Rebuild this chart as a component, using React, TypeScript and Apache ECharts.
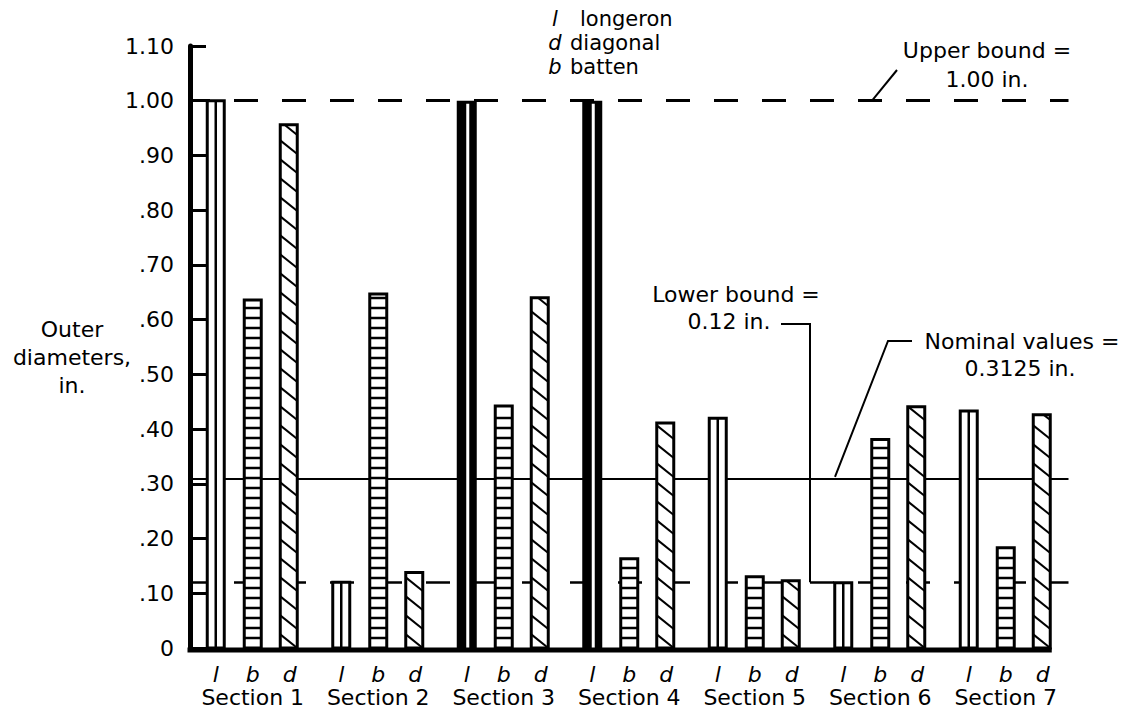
import React, { useEffect, useRef } from "react";
import * as echarts from "echarts";

// Truss member outer diameters (in.) per section
const sections = ["Section 1", "Section 2", "Section 3", "Section 4", "Section 5", "Section 6", "Section 7"];
const memberLetters = ["l", "b", "d"];
const longeron = [1.0, 0.12, 1.0, 1.0, 0.42, 0.119, 0.433];
const batten = [0.636, 0.647, 0.442, 0.163, 0.13, 0.381, 0.183];
const diagonal = [0.956, 0.138, 0.64, 0.411, 0.123, 0.441, 0.426];

// Design limits
const upperBound = 1.0;
const lowerBound = 0.12;
const nominalValue = 0.3125;

const legendRows = [
  ["l", "longeron"],
  ["d", "diagonal"],
  ["b", "batten"],
];

// Longeron bars printed with solid heavy ink
const HEAVY_LONGERONS = [2, 3];

const FONT = "DejaVu Sans";
const INK = "#000";
const BAR_W = 17;

function clipLine(xL: number, w: number, a: number, drop: number, yT: number, yB: number) {
  const t0 = Math.max(0, (yT - a) / drop);
  const t1 = Math.min(1, (yB - a) / drop);
  if (t0 >= t1) return null;
  return { x1: xL + t0 * w, y1: a + t0 * drop, x2: xL + t1 * w, y2: a + t1 * drop };
}

function makeRenderer(kind: string, offset: number) {
  return (params: any, api: any) => {
    const idx = api.value(0);
    const val = api.value(1);
    const top = api.coord([idx, val]);
    const base = api.coord([idx, 0]);
    const cx = top[0] + offset;
    const xL = cx - BAR_W / 2;
    const yT = top[1];
    const yB = base[1];
    const h = yB - yT;
    const children: any[] = [];
    const outline = { stroke: INK, lineWidth: 3, fill: "#fff" };

    if (kind === "l") {
      if (HEAVY_LONGERONS.includes(idx)) {
        children.push({ type: "rect", shape: { x: xL - 1.5, y: yT, width: BAR_W + 3, height: h }, style: { fill: INK } });
        children.push({ type: "line", shape: { x1: cx + 1, y1: yT + 3, x2: cx + 1, y2: yB }, style: { stroke: "#fff", lineWidth: 3 } });
      } else {
        children.push({ type: "rect", shape: { x: xL, y: yT, width: BAR_W, height: h }, style: outline });
        children.push({ type: "line", shape: { x1: cx, y1: yT, x2: cx, y2: yB }, style: { stroke: INK, lineWidth: 2.5 } });
      }
    } else if (kind === "b") {
      children.push({ type: "rect", shape: { x: xL, y: yT, width: BAR_W, height: h }, style: outline });
      for (let y = yB - 10; y > yT + 4; y -= 10) {
        children.push({ type: "line", shape: { x1: xL, y1: y, x2: xL + BAR_W, y2: y }, style: { stroke: INK, lineWidth: 2.5 } });
      }
    } else {
      children.push({ type: "rect", shape: { x: xL, y: yT, width: BAR_W, height: h }, style: outline });
      const drop = BAR_W * 0.8;
      for (let a = yB - drop; a + drop > yT; a -= 19) {
        const seg = clipLine(xL, BAR_W, a, drop, yT, yB);
        if (seg) children.push({ type: "line", shape: seg, style: { stroke: INK, lineWidth: 2 } });
      }
    }
    return { type: "group", children };
  };
}

const seriesData = [longeron, batten, diagonal];
const offsets = [-37, 0, 36];

export default function App() {
  const ref = useRef<HTMLDivElement>(null);

  useEffect(() => {
    if (!ref.current) return;
    const chart = echarts.init(ref.current, null, { renderer: "svg" });

    const text = (t: string, x: number, y: number, align = "center", italic = false, size = 22) => ({
      type: "text",
      x,
      y,
      silent: true,
      style: {
        text: t,
        fill: INK,
        fontFamily: FONT,
        fontSize: size,
        fontStyle: italic ? "italic" : "normal",
        align,
        verticalAlign: "middle",
      },
    });

    chart.setOption({
      animation: false,
      backgroundColor: "#fff",
      grid: { left: 190, right: 59.5, top: 46, bottom: 66 },
      xAxis: {
        type: "category",
        data: sections,
        axisLine: { show: false },
        axisTick: { show: false },
        axisLabel: {
          interval: 0,
          margin: 16,
          formatter: (v: string) => `${memberLetters.map((m) => `{m|${m}}`).join("")}\n{s|${v}}`,
          rich: {
            m: { width: 37, align: "center", fontStyle: "italic", fontSize: 22, fontFamily: FONT, color: INK, lineHeight: 21 },
            s: { fontSize: 22, fontFamily: FONT, color: INK, lineHeight: 25 },
          },
        },
      },
      yAxis: {
        type: "value",
        min: 0,
        max: 1.1,
        interval: 0.1,
        axisLine: { show: true, lineStyle: { color: INK, width: 5 } },
        axisTick: { show: true, inside: true, length: 16, lineStyle: { color: INK, width: 3 } },
        splitLine: { show: false },
        axisLabel: {
          margin: 16,
          color: INK,
          fontFamily: FONT,
          fontSize: 22,
          formatter: (v: number) => {
            if (v === 0) return "0";
            const s = v.toFixed(2);
            return v < 1 ? s.slice(1) : s;
          },
        },
      },
      series: [
        {
          type: "line",
          data: [],
          z: 1,
          markLine: {
            silent: true,
            z: 1,
            symbol: ["none", "none"],
            label: { show: false },
            data: [
              { yAxis: upperBound, lineStyle: { color: INK, width: 3, type: [24, 24], dashOffset: 4 } },
              { yAxis: nominalValue, lineStyle: { color: INK, width: 2, type: "solid" } },
              { yAxis: lowerBound, lineStyle: { color: INK, width: 2.5, type: [24, 24], dashOffset: 4 } },
            ],
          },
        },
        ...seriesData.map((vals, k) => ({
          type: "custom",
          name: memberLetters[k],
          z: 10,
          renderItem: makeRenderer(memberLetters[k], offsets[k]),
          data: vals.map((v, i) => [i, v]),
        })),
      ],
    });

    const yPx = (v: number) => chart.convertToPixel({ yAxisIndex: 0 }, v) as number;
    const yUpper = yPx(upperBound);
    const yLower = yPx(lowerBound);
    const yNominal = yPx(nominalValue);
    const yZero = yPx(0);

    // Baseline runs from the value axis to the outer edge of the last bar
    const lastCenter = chart.convertToPixel({ xAxisIndex: 0 }, sections.length - 1) as number;
    const baseEnd = lastCenter + offsets[2] + BAR_W / 2 + 1.5;

    const leader = (points: number[][]) => ({
      type: "polyline",
      silent: true,
      shape: { points },
      style: { stroke: INK, lineWidth: 2, fill: "none" },
    });

    const graphics: any[] = [
      {
        type: "line",
        silent: true,
        z: 20,
        shape: { x1: 187.5, y1: yZero + 2, x2: baseEnd, y2: yZero + 2 },
        style: { stroke: INK, lineWidth: 5 },
      },
      text("Outer", 72, 329),
      text("diameters,", 72, 357),
      text("in.", 72, 385),
      text("Upper bound =", 987, 50),
      text("1.00 in.", 987, 79),
      leader([[897, 70], [872, yUpper]]),
      text("Lower bound =", 736, 294),
      text("0.12 in.", 729, 321),
      leader([[781, 324], [810, 324], [810, yLower]]),
      text("Nominal values =", 1022, 341),
      text("0.3125 in.", 1020, 368),
      leader([[912, 341], [888, 341], [835, yNominal]]),
    ];
    legendRows.forEach(([letter, word], i) => {
      const y = 19 + i * 24;
      graphics.push(text(letter, 555, y, "center", true, 21));
      graphics.push(text(word, i === 0 ? 580 : 570, y, "left", false, 21));
    });
    chart.setOption({ graphic: graphics });

    return () => chart.dispose();
  }, []);

  return (
    <div
      ref={ref}
      style={{ position: "fixed", left: 0, top: 0, width: 1128, height: 714, background: "#fff" }}
    />
  );
}
